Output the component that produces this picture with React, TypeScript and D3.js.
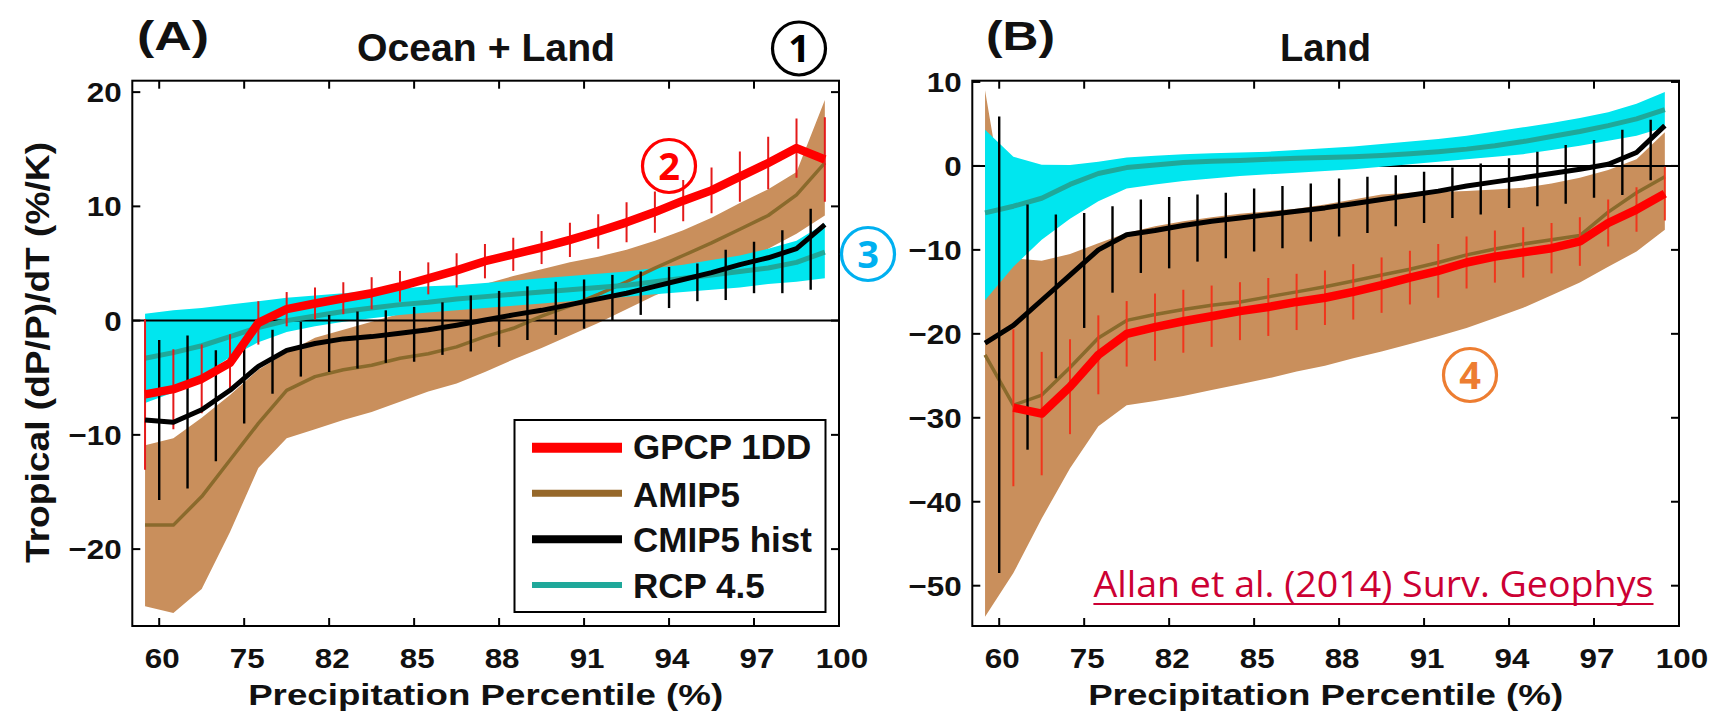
import React from "react";
import * as d3 from "d3";

// ---------------- data ----------------
const tickLabels = ["60", "75", "82", "85", "88", "91", "94", "97", "100"];
const tickIndex = [0.5, 3.5, 6.5, 9.5, 12.5, 15.5, 18.5, 21.5, 24.5];

// Panel A: Ocean + Land
const A_gpcp = [-6.45, -6.0, -5.1, -3.7, -0.2, 1.0, 1.5, 1.96, 2.4, 3.0, 3.7, 4.4, 5.2, 5.8, 6.4, 7.07, 7.8, 8.6, 9.5, 10.5, 11.4, 12.6, 13.8, 15.1, 14.1];
const A_gpcpErr = [6.6, 3.5, 3.0, 2.5, 1.9, 1.5, 1.4, 1.4, 1.4, 1.35, 1.4, 1.5, 1.5, 1.45, 1.45, 1.5, 1.5, 1.75, 1.8, 1.8, 2.0, 2.2, 2.3, 2.6, 3.7];
const A_amip = [-17.9, -17.9, -15.4, -12.2, -9.0, -6.1, -4.9, -4.3, -3.9, -3.3, -2.9, -2.3, -1.4, -0.67, 0.4, 1.3, 2.3, 3.4, 4.6, 5.7, 6.8, 8.0, 9.2, 11.0, 13.8];
const A_amipLo = [-25.0, -25.6, -23.5, -18.5, -12.9, -10.3, -9.5, -8.7, -8.0, -7.1, -6.2, -5.5, -4.5, -3.4, -2.4, -1.3, -0.2, 1.0, 2.2, 3.2, 4.2, 5.1, 6.3, 7.6, 9.2];
const A_amipHi = [-10.9, -10.3, -8.5, -6.5, -4.3, -2.8, -1.5, -0.8, -0.1, 0.6, 1.6, 2.4, 3.2, 3.9, 4.5, 5.1, 5.6, 6.2, 7.0, 7.9, 9.0, 10.3, 11.5, 13.0, 19.3];
const A_cmip = [-8.7, -8.9, -7.8, -6.1, -4.0, -2.6, -2.0, -1.6, -1.4, -1.1, -0.8, -0.4, 0.05, 0.5, 0.9, 1.4, 1.9, 2.4, 3.0, 3.6, 4.2, 4.9, 5.5, 6.3, 8.4];
const A_cmipBarHi = [-1.7, -1.3, -2.6, -2.3, -0.8, -0.1, 0.5, 0.8, 0.9, 1.2, 1.6, 2.2, 2.6, 3.0, 3.4, 3.6, 4.0, 4.3, 4.7, 5.0, 6.2, 6.9, 7.9, 9.8];
const A_cmipBarLo = [-15.7, -14.7, -12.3, -9.0, -6.4, -4.9, -4.5, -4.2, -3.7, -3.6, -3.0, -2.7, -2.3, -1.7, -1.25, -0.7, 0.05, 0.5, 1.1, 1.7, 1.8, 2.4, 2.4, 2.7];
const A_rcp = [-3.3, -2.8, -2.2, -1.4, -0.6, 0.0, 0.4, 0.8, 1.1, 1.4, 1.6, 1.9, 2.1, 2.3, 2.5, 2.7, 2.9, 3.1, 3.4, 3.7, 4.0, 4.3, 4.6, 5.1, 6.0];
const A_rcpHi = [0.6, 0.9, 1.1, 1.4, 1.7, 2.0, 2.2, 2.4, 2.6, 2.8, 3.0, 3.1, 3.3, 3.5, 3.7, 3.9, 4.1, 4.3, 4.6, 4.9, 5.3, 5.7, 6.3, 7.0, 8.5];
const A_rcpLo = [-7.2, -6.3, -4.8, -3.2, -1.9, -1.0, -0.5, -0.1, 0.2, 0.5, 0.7, 0.9, 1.1, 1.3, 1.5, 1.7, 1.9, 2.1, 2.3, 2.5, 2.7, 2.9, 3.2, 3.4, 3.7];
const A_yTicks = [20, 10, 0, -10, -20];

// Panel B: Land
const B_gpcp = [null, -28.8, -29.5, -26.3, -22.5, -20.0, -19.2, -18.5, -17.9, -17.3, -16.8, -16.2, -15.7, -15.0, -14.2, -13.3, -12.5, -11.5, -10.8, -10.3, -9.8, -9.0, -6.8, -5.2, -3.3];
const B_gpcpErr = [null, 9.35, 7.35, 5.65, 4.7, 3.9, 4.0, 3.75, 3.65, 3.45, 3.45, 3.35, 3.25, 3.3, 3.3, 3.2, 3.2, 3.1, 3.1, 3.0, 3.0, 2.9, 2.8, 2.65, 3.2];
const B_amip = [-22.5, -28.5, -27.3, -24.0, -20.5, -18.4, -17.7, -17.1, -16.6, -16.2, -15.6, -15.0, -14.4, -13.7, -13.0, -12.3, -11.5, -10.6, -9.9, -9.3, -8.8, -8.3, -5.5, -3.2, -1.3];
const B_amipLo = [-53.7, -48.5, -42.0, -36.0, -31.0, -28.5, -28.0, -27.4, -26.7, -26.0, -25.3, -24.5, -23.8, -22.9, -22.1, -21.2, -20.3, -19.3, -18.1, -16.9, -15.4, -13.9, -12.0, -10.2, -7.6];
const B_amipHi = [9.0, -11.0, -11.3, -10.5, -9.2, -8.0, -7.2, -6.6, -6.1, -5.7, -5.4, -5.1, -4.6, -4.0, -3.4, -3.2, -3.1, -3.0, -2.8, -2.6, -2.1, -1.4, -0.5, 0.8, 4.0];
const B_cmip = [-21.1, -19.0, -16.0, -13.0, -10.0, -8.2, -7.7, -7.1, -6.6, -6.2, -5.8, -5.4, -5.0, -4.5, -4.0, -3.5, -3.0, -2.4, -1.9, -1.4, -0.9, -0.4, 0.2, 1.6, 4.8];
const B_cmipBarHi = [5.9, -4.6, -5.8, -5.6, -4.8, -4.0, -3.7, -3.4, -3.2, -2.7, -2.4, -2.1, -1.5, -1.3, -1.1, -0.7, -0.2, 0.3, 0.9, 1.7, 2.5, 3.1, 4.3, 5.5];
const B_cmipBarLo = [-48.5, -33.8, -25.3, -19.3, -15.1, -12.75, -12.2, -11.4, -11.0, -10.2, -9.8, -9.0, -8.4, -8.0, -7.2, -6.8, -6.2, -5.8, -5.0, -4.8, -4.5, -3.8, -3.45, -1.7];
const B_rcp = [-5.6, -4.8, -3.85, -2.2, -0.9, -0.2, 0.1, 0.4, 0.55, 0.65, 0.8, 0.9, 1.0, 1.1, 1.25, 1.45, 1.7, 2.0, 2.4, 2.9, 3.5, 4.1, 4.8, 5.6, 6.7];
const B_rcpHi = [4.3, 1.1, 0.15, 0.1, 0.5, 1.0, 1.2, 1.4, 1.5, 1.6, 1.7, 1.9, 2.1, 2.3, 2.6, 2.9, 3.2, 3.6, 4.1, 4.6, 5.1, 5.7, 6.4, 7.4, 8.8];
const B_rcpLo = [-16.0, -12.0, -8.8, -6.3, -4.2, -2.7, -2.2, -1.8, -1.5, -1.2, -1.0, -0.8, -0.6, -0.4, -0.1, 0.2, 0.5, 0.8, 1.1, 1.4, 1.9, 2.4, 3.0, 3.6, 4.6];
const B_yTicks = [10, 0, -10, -20, -30, -40, -50];

const legendLabels = ["GPCP 1DD", "AMIP5", "CMIP5 hist", "RCP 4.5"];

// ---------------- style ----------------
const FONT = "'Liberation Sans', Arial, Helvetica, sans-serif";
const C_RED = "#ff0000";
const C_BROWN_BAND = "#c98f5c";
const C_BROWN = "#8a6a2c";
const C_CYAN_BAND = "#00e6ef";
const C_CYAN = "#1fa89a";
const C_BLACK = "#000000";

type PanelDef = {
  id: string;
  left: number;
  right: number;
  top: number;
  bottom: number;
  yDomain: [number, number];
  yTicks: number[];
  gpcp: (number | null)[];
  gpcpErr: (number | null)[];
  amip: number[];
  amipLo: number[];
  amipHi: number[];
  cmip: number[];
  cmipBarHi: number[];
  cmipBarLo: number[];
  rcp: number[];
  rcpHi: number[];
  rcpLo: number[];
  zeroOnTop: boolean;
  redBar: string;
};

const panels: PanelDef[] = [
  {
    id: "A", left: 132.3, right: 839, top: 80.7, bottom: 626, yDomain: [-26.73, 21.0], yTicks: A_yTicks,
    gpcp: A_gpcp, gpcpErr: A_gpcpErr, amip: A_amip, amipLo: A_amipLo, amipHi: A_amipHi,
    cmip: A_cmip, cmipBarHi: A_cmipBarHi, cmipBarLo: A_cmipBarLo, rcp: A_rcp, rcpHi: A_rcpHi, rcpLo: A_rcpLo,
    zeroOnTop: true, redBar: "#e41a1a",
  },
  {
    id: "B", left: 972.3, right: 1679, top: 80.7, bottom: 626, yDomain: [-54.8, 10.15], yTicks: B_yTicks,
    gpcp: B_gpcp, gpcpErr: B_gpcpErr, amip: B_amip, amipLo: B_amipLo, amipHi: B_amipHi,
    cmip: B_cmip, cmipBarHi: B_cmipBarHi, cmipBarLo: B_cmipBarLo, rcp: B_rcp, rcpHi: B_rcpHi, rcpLo: B_rcpLo,
    zeroOnTop: false, redBar: "#f0361c",
  },
];

function fmt(v: number) {
  return v < 0 ? "\u2212" + Math.abs(v) : String(v);
}

function Panel({ p }: { p: PanelDef }) {
  const x = d3.scaleLinear().domain([-0.45, 24.5]).range([p.left, p.right]);
  const y = d3.scaleLinear().domain(p.yDomain).range([p.bottom, p.top]);
  const idx = d3.range(p.amip.length);

  const band = (lo: number[], hi: number[]) =>
    d3.area<number>().x((i) => x(i)).y0((i) => y(lo[i])).y1((i) => y(hi[i]))(idx) || "";
  const line = (vals: (number | null)[]) =>
    d3.line<number>().defined((i) => vals[i] != null).x((i) => x(i)).y((i) => y(vals[i] as number))(idx) || "";

  const clipId = "clip" + p.id;
  const zero = (
    <line x1={p.left} x2={p.right} y1={y(0)} y2={y(0)} stroke="#000" strokeWidth={2} />
  );
  const tickLen = 8;
  const cx = (p.left + p.right) / 2;

  return (
    <g>
      <defs>
        <clipPath id={clipId}>
          <rect x={p.left} y={p.top} width={p.right - p.left} height={p.bottom - p.top} />
        </clipPath>
      </defs>
      <g clipPath={`url(#${clipId})`}>
        <path d={band(p.amipLo, p.amipHi)} fill={C_BROWN_BAND} />
        {!p.zeroOnTop && zero}
        <path d={band(p.rcpLo, p.rcpHi)} fill={C_CYAN_BAND} />
        {p.zeroOnTop && zero}
        <path d={line(p.amip)} fill="none" stroke={C_BROWN} strokeWidth={3.5} strokeLinejoin="round" />
        <path d={line(p.rcp)} fill="none" stroke={C_CYAN} strokeWidth={5} strokeLinejoin="round" />
        {p.cmipBarHi.map((hi, j) => (
          <line key={"cb" + j} x1={x(j + 0.5)} x2={x(j + 0.5)} y1={y(hi)} y2={y(p.cmipBarLo[j])} stroke={C_BLACK} strokeWidth={2.4} />
        ))}
        {p.gpcp.map((v, i) =>
          v == null ? null : (
            <line key={"rb" + i} x1={x(i)} x2={x(i)} y1={y(v + (p.gpcpErr[i] as number))} y2={y(v - (p.gpcpErr[i] as number))} stroke={p.redBar} strokeWidth={2} />
          )
        )}
        <path d={line(p.cmip)} fill="none" stroke={C_BLACK} strokeWidth={5} strokeLinejoin="round" />
        <path d={line(p.gpcp)} fill="none" stroke={C_RED} strokeWidth={8.5} strokeLinejoin="round" />
      </g>
      {/* ticks */}
      {tickIndex.map((t, k) => (
        <g key={"xt" + k}>
          <line x1={x(t)} x2={x(t)} y1={p.bottom} y2={p.bottom - tickLen} stroke="#000" strokeWidth={2} />
          <line x1={x(t)} x2={x(t)} y1={p.top} y2={p.top + tickLen} stroke="#000" strokeWidth={2} />
          <text transform={`translate(${x(t) + 3},668) scale(1.12,1)`} textAnchor="middle" fontSize={28} fontWeight="bold" fontFamily={FONT} fill="#111">
            {tickLabels[k]}
          </text>
        </g>
      ))}
      {p.yTicks.map((v) => (
        <g key={"yt" + v}>
          <line x1={p.left} x2={p.left + tickLen} y1={y(v)} y2={y(v)} stroke="#000" strokeWidth={2} />
          <line x1={p.right} x2={p.right - tickLen} y1={y(v)} y2={y(v)} stroke="#000" strokeWidth={2} />
          <text transform={`translate(${p.left - 10.6},${y(v) + 10}) scale(1.12,1)`} textAnchor="end" fontSize={28} fontWeight="bold" fontFamily={FONT} fill="#111">
            {fmt(v)}
          </text>
        </g>
      ))}
      <rect x={p.left} y={p.top} width={p.right - p.left} height={p.bottom - p.top} fill="none" stroke="#000" strokeWidth={2} />
      <text x={cx} y={705} textAnchor="middle" fontSize={30} fontWeight="bold" fontFamily={FONT} fill="#111" textLength={475} lengthAdjust="spacingAndGlyphs">
        Precipitation Percentile (%)
      </text>
    </g>
  );
}

function Circled({ cx, cy, n, color }: { cx: number; cy: number; n: string; color: string }) {
  return (
    <g>
      <circle cx={cx} cy={cy} r={26.5} fill="none" stroke={color} strokeWidth={3.2} />
      <text x={cx} y={cy + 13.5} textAnchor="middle" fontSize={38} fontWeight="bold" fontFamily="'Open Sans', 'Noto Sans', sans-serif" fill={color}>
        {n}
      </text>
    </g>
  );
}

export default function App() {
  const legendColors = [C_RED, "#96682a", C_BLACK, C_CYAN];
  const legendWidths = [10, 7, 8, 6];
  const legendLineY = [447.7, 493.3, 539.3, 585];
  const legendTextY = [459, 506.5, 552, 598];
  return (
    <svg width={1721} height={715} style={{ position: "absolute", left: 0, top: 0, background: "#fff" }}>
      <rect x={0} y={0} width={1721} height={715} fill="#fff" />
      {panels.map((p) => (
        <Panel key={p.id} p={p} />
      ))}
      {/* titles */}
      <text x={137} y={50} fontSize={40} fontWeight="bold" fontFamily={FONT} fill="#111" textLength={72} lengthAdjust="spacingAndGlyphs">(A)</text>
      <text x={357} y={61} fontSize={38} fontWeight="bold" fontFamily={FONT} fill="#111" textLength={258} lengthAdjust="spacingAndGlyphs">Ocean + Land</text>
      <text x={986} y={50} fontSize={40} fontWeight="bold" fontFamily={FONT} fill="#111" textLength={69} lengthAdjust="spacingAndGlyphs">(B)</text>
      <text x={1280} y={60.5} fontSize={38} fontWeight="bold" fontFamily={FONT} fill="#111" textLength={91} lengthAdjust="spacingAndGlyphs">Land</text>
      {/* y label */}
      <text transform="translate(49,352.5) rotate(-90)" textAnchor="middle" fontSize={34} fontWeight="bold" fontFamily={FONT} fill="#111" textLength={421} lengthAdjust="spacingAndGlyphs">
        Tropical (dP/P)/dT (%/K)
      </text>
      {/* legend */}
      <rect x={514.5} y={420} width={311} height={192} fill="#fff" stroke="#000" strokeWidth={2} />
      {legendLabels.map((l, k) => (
        <g key={l}>
          <line x1={532} x2={622} y1={legendLineY[k]} y2={legendLineY[k]} stroke={legendColors[k]} strokeWidth={legendWidths[k]} />
          <text x={633} y={legendTextY[k]} fontSize={35} fontWeight="bold" fontFamily={FONT} fill="#111">{l}</text>
        </g>
      ))}
      {/* annotations */}
      <Circled cx={799} cy={48.5} n="1" color="#000" />
      <Circled cx={669} cy={166} n="2" color="#ff0000" />
      <Circled cx={868} cy={254} n="3" color="#00b0f0" />
      <Circled cx={1470} cy={375} n="4" color="#ed7d31" />
      <text x={1093.4} y={596.7} fontSize={36} fontFamily="'Open Sans', 'Noto Sans', sans-serif" fill="#cc0033" textLength={560} lengthAdjust="spacingAndGlyphs">
        Allan et al. (2014) Surv. Geophys
      </text>
      <line x1={1093.4} x2={1653.5} y1={604} y2={604} stroke="#cc0033" strokeWidth={2} />
    </svg>
  );
}
